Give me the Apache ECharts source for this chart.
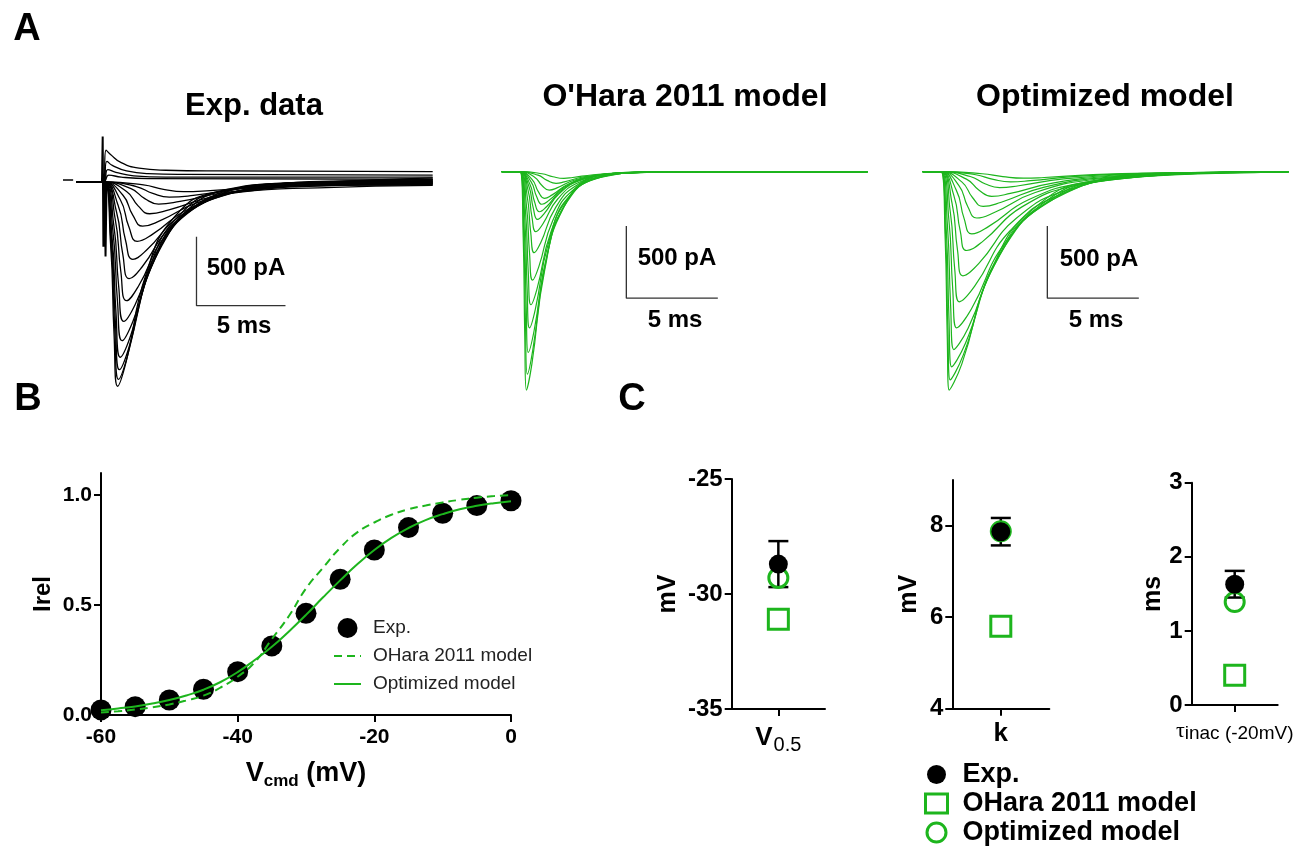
<!DOCTYPE html>
<html>
<head>
<meta charset="utf-8">
<script src="https://cdn.jsdelivr.net/npm/echarts@6.0.0/dist/echarts.min.js"></script>
<style>
    html, body { margin: 0; padding: 0; background: #fff; }
    #chart { width: 1309px; height: 847px; }
</style>
</head>
<body>
<div id="chart"></div>
<script>
const FONT = '"Liberation Sans", Arial, Helvetica, sans-serif';
const GREEN = '#1db51d';

// ---- panel A: current traces, [time (ms), current (pA)] ----
const expTraces = [
    [[0,0],[1.5,0],[1.9,-444],[2.1,-1110],[2.3,-1480],[2.78,-1302],[3.9,-666],[5.5,-252],[7.9,-69],[11.9,-14],[20,-10]],
    [[0,0],[1.5,0],[1.925,-429],[2.14,-1073],[2.35,-1430],[2.86,-1258],[4.05,-644],[5.75,-243],[8.3,-62],[12.55,-9],[20,-5]],
    [[0,0],[1.5,0],[1.95,-408],[2.175,-1020],[2.4,-1360],[2.94,-1197],[4.2,-612],[6.0,-231],[8.7,-54],[13.2,-4],[20,0]],
    [[0,0],[1.5,0],[1.975,-381],[2.21,-953],[2.45,-1270],[3.02,-1118],[4.35,-572],[6.25,-216],[9.1,-66],[13.85,-19],[20,-15]],
    [[0,0],[1.5,0],[2.025,-345],[2.29,-863],[2.55,-1150],[3.15,-1012],[4.55,-518],[6.55,-196],[9.55,-41],[14.55,2],[20,5]],
    [[0,0],[1.5,0],[2.075,-303],[2.36,-758],[2.65,-1010],[3.28,-889],[4.75,-455],[6.85,-172],[10.0,-60],[15.25,-23],[20,-20]],
    [[0,0],[1.5,0],[2.15,-258],[2.475,-645],[2.8,-860],[3.46,-757],[5.0,-387],[7.2,-146],[10.5,-24],[16.0,8],[20,10]],
    [[0,0],[1.5,0],[2.225,-210],[2.59,-525],[2.95,-700],[3.67,-616],[5.35,-315],[7.75,-119],[11.35,-36],[17.35,-10],[20,-8]],
    [[0,0],[1.5,0],[2.325,-168],[2.74,-420],[3.15,-560],[3.93,-493],[5.75,-252],[8.35,-95],[12.25,-7],[20,15]],
    [[0,0],[1.5,0],[2.45,-129],[2.925,-323],[3.4,-430],[4.27,-378],[6.3,-194],[9.2,-73],[13.55,-42],[20,-25]],
    [[0,0],[1.5,0],[2.6,-96],[3.15,-240],[3.7,-320],[4.66,-282],[6.9,-144],[10.1,-54],[14.9,-13],[20,0]],
    [[0,0],[1.5,0],[2.8,-69],[3.45,-173],[4.1,-230],[5.18,-202],[7.7,-104],[11.3,-29],[16.7,11],[20,20]],
    [[0,0],[1.5,0],[3.05,-48],[3.825,-120],[4.6,-160],[5.8,-141],[8.6,-72],[12.6,-33],[18.6,-18],[20,-12]],
    [[0,0],[1.5,0],[3.35,-33],[4.275,-83],[5.2,-110],[6.55,-97],[9.7,-40],[14.2,1],[20,30]],
    [[0,0],[1.5,0],[3.75,-21],[4.875,-53],[6.0,-70],[7.5,-62],[11.0,-32],[16.0,-4],[20,8]],
    [[0,0],[1.5,0],[1.65,230],[1.9,200],[2.5,140],[3.5,100],[5,85],[8,80],[20,75]],
    [[0,0],[1.5,0],[1.7,150],[2.0,120],[2.8,80],[4,60],[6,55],[20,50]],
    [[0,0],[1.5,0],[1.75,90],[2.2,70],[3.2,45],[5,35],[20,35]],
    [[0,0],[1.5,0],[1.8,50],[2.5,35],[4,25],[20,20]]
];
const expArtifact = [[1.42,0],[1.46,330],[1.5,-470],[1.56,60],[1.62,-540],[1.68,0]];
const expZeroMark = [[-0.77,15],[-0.2,15]];

const oharaTraces = [
    [[0,0],[1,0],[1.175,-453],[1.26,-1133],[1.35,-1510],[1.65,-1329],[2.35,-680],[3.35,-257],[4.85,-60],[7.35,-5],[20,0]],
    [[0,0],[1,0],[1.2,-420],[1.3,-1050],[1.4,-1400],[1.7,-1232],[2.4,-630],[3.4,-238],[4.9,-56],[7.4,-4],[20,0]],
    [[0,0],[1,0],[1.225,-375],[1.34,-938],[1.45,-1250],[1.77,-1100],[2.5,-563],[3.55,-213],[5.13,-50],[7.75,-4],[20,0]],
    [[0,0],[1,0],[1.26,-324],[1.39,-810],[1.52,-1080],[1.84,-950],[2.57,-486],[3.62,-184],[5.2,-43],[7.82,-3],[20,0]],
    [[0,0],[1,0],[1.3,-276],[1.45,-690],[1.6,-920],[1.93,-810],[2.7,-414],[3.8,-156],[5.45,-37],[8.2,-3],[20,0]],
    [[0,0],[1,0],[1.345,-225],[1.52,-563],[1.69,-750],[2.02,-660],[2.79,-338],[3.89,-128],[5.54,-30],[8.29,-2],[20,0]],
    [[0,0],[1,0],[1.39,-168],[1.585,-420],[1.78,-560],[2.125,-493],[2.93,-252],[4.08,-95],[5.81,-22],[8.68,-2],[20,0]],
    [[0,0],[1,0],[1.435,-125],[1.65,-311],[1.87,-415],[2.23,-365],[3.07,-187],[4.27,-71],[6.07,-17],[9.07,-1],[20,0]],
    [[0,0],[1,0],[1.48,-99],[1.72,-248],[1.96,-330],[2.32,-290],[3.16,-149],[4.36,-56],[6.16,-13],[9.16,-1],[20,0]],
    [[0,0],[1,0],[1.53,-83],[1.795,-208],[2.06,-277],[2.435,-244],[3.31,-125],[4.56,-47],[6.435,-11],[9.56,-1],[20,0]],
    [[0,0],[1,0],[1.6,-68],[1.9,-169],[2.2,-225],[2.59,-198],[3.5,-101],[4.8,-38],[6.75,-9],[10,-1],[20,0]],
    [[0,0],[1,0],[1.665,-55],[2.0,-138],[2.33,-184],[2.735,-162],[3.68,-83],[5.03,-31],[7.06,-7],[10.43,-1],[20,0]],
    [[0,0],[1,0],[1.8,-38],[2.2,-95],[2.6,-127],[3.02,-112],[4.0,-57],[5.4,-22],[7.5,-5],[11,0],[20,0]],
    [[0,0],[1,0],[1.985,-24],[2.48,-60],[2.97,-80],[3.42,-70],[4.47,-36],[5.97,-14],[8.22,-3],[12,0],[20,0]],
    [[0,0],[1,0],[2.2,-14],[2.8,-35],[3.4,-46],[3.88,-40],[5.0,-21],[6.6,-8],[9.0,-2],[13,0],[20,0]]
];

const optTraces = [
    [[0,0],[1,0],[1.225,-453],[1.34,-1133],[1.45,-1510],[2.14,-1329],[3.75,-680],[6.05,-257],[9.5,-60],[15.25,-5],[20,0]],
    [[0,0],[1,0],[1.25,-432],[1.375,-1080],[1.5,-1440],[2.22,-1267],[3.9,-648],[6.3,-245],[9.9,-58],[15.9,-4],[20,0]],
    [[0,0],[1,0],[1.29,-405],[1.435,-1013],[1.58,-1350],[2.33,-1188],[4.08,-608],[6.58,-230],[10.33,-54],[16.58,-4],[20,0]],
    [[0,0],[1,0],[1.35,-369],[1.525,-923],[1.7,-1230],[2.48,-1082],[4.3,-554],[6.9,-209],[10.8,-49],[17.3,-4],[20,0]],
    [[0,0],[1,0],[1.425,-324],[1.64,-810],[1.85,-1080],[2.66,-950],[4.55,-486],[7.25,-184],[11.3,-43],[18.05,-3],[20,0]],
    [[0,0],[1,0],[1.5,-270],[1.75,-675],[2.0,-900],[2.84,-792],[4.8,-405],[7.6,-153],[11.8,-36],[18.8,-3],[20,0]],
    [[0,0],[1,0],[1.6,-216],[1.9,-540],[2.2,-720],[3.07,-634],[5.1,-324],[8.0,-122],[12.35,-29],[20,0]],
    [[0,0],[1,0],[1.7,-164],[2.05,-409],[2.4,-545],[3.3,-480],[5.4,-245],[8.4,-93],[12.9,-22],[20,0]],
    [[0,0],[1,0],[1.84,-129],[2.26,-323],[2.68,-430],[3.61,-378],[5.78,-194],[8.88,-73],[13.53,-17],[20,0]],
    [[0,0],[1,0],[1.98,-96],[2.46,-240],[2.95,-320],[3.91,-282],[6.15,-144],[9.35,-54],[14.15,-13],[20,0]],
    [[0,0],[1,0],[2.15,-72],[2.73,-180],[3.3,-240],[4.29,-211],[6.6,-108],[9.9,-41],[14.85,-10],[20,0]],
    [[0,0],[1,0],[2.39,-51],[3.08,-128],[3.77,-170],[4.79,-150],[7.17,-77],[10.57,-29],[15.67,-7],[20,0]],
    [[0,0],[1,0],[2.6,-33],[3.4,-83],[4.2,-110],[5.25,-97],[7.7,-50],[11.2,-19],[16.45,-4],[20,0]],
    [[0,0],[1,0],[2.9,-21],[3.85,-53],[4.8,-70],[5.88,-62],[8.4,-32],[12.0,-12],[17.4,-3],[20,0]],
    [[0,0],[1,0],[3.25,-14],[4.375,-34],[5.5,-45],[6.64,-40],[9.3,-20],[13.1,-8],[18.8,-2],[20,0]]
];

// scale bars: 500 pA vertical, 5 ms horizontal
const expScaleBar = [[6.73,-396],[6.73,-896],[11.73,-896]];
const modelScaleBar = [[6.81,-375],[6.81,-875],[11.81,-875]];

// ---- panel B: activation curve ----
const ivVolt = [-60,-55,-50,-45,-40,-35,-30,-25,-20,-15,-10,-5,0];
const ivExp = [0.023,0.038,0.068,0.117,0.197,0.314,0.462,0.617,0.75,0.852,0.917,0.952,0.974];
const fitVolt = [-60,-57.5,-55,-52.5,-50,-47.5,-45,-42.5,-40,-37.5,-35,-32.5,-30,-27.5,-25,-22.5,-20,-17.5,-15,-12.5,-10,-7.5,-5,-2.5,0];
const fitOhara = [0.011,0.017,0.025,0.035,0.048,0.066,0.088,0.125,0.174,0.24,0.345,0.45,0.575,0.67,0.76,0.83,0.875,0.91,0.935,0.952,0.966,0.978,0.988,0.995,1.0];
const fitOpt = [0.022,0.03,0.039,0.052,0.068,0.089,0.115,0.15,0.195,0.25,0.31,0.38,0.455,0.535,0.612,0.685,0.75,0.805,0.85,0.886,0.913,0.935,0.951,0.963,0.972];

// ---- panel C: fitted parameters ----
const cParams = ['V0.5', 'k', 'tau'];
const expMean = [-28.7, 7.87, 1.63];
const expSem = [1.0, 0.3, 0.18];
const oharaVal = [-31.1, 5.8, 0.40];
const optVal = [-29.3, 7.88, 1.39];

const chart = echarts.init(document.getElementById('chart'));

const axisBlack = { show: true, onZero: false, lineStyle: { color: '#000', width: 2 } };
const tickBlack = { show: true, length: 7, lineStyle: { color: '#000', width: 2 } };

function traceLines(traces, gi, color, width) {
    return traces.map(function (tr) {
        return {
            type: 'line', xAxisIndex: gi, yAxisIndex: gi, data: tr,
            symbol: 'none', smooth: 0.5, silent: true,
            lineStyle: { color: color, width: width }
        };
    });
}

function barLine(data, gi) {
    return {
        type: 'line', xAxisIndex: gi, yAxisIndex: gi, data: data,
        symbol: 'none', silent: true,
        lineStyle: { color: '#333', width: 1.3 }
    };
}

function txt(s, x, y, size, weight) {
    return {
        type: 'text', x: x, y: y, silent: true,
        style: {
            text: s, fill: '#000', font: (weight || 'bold') + ' ' + size + 'px ' + FONT,
            align: 'center', verticalAlign: 'middle'
        }
    };
}

const grids = [
    { left: 58.9, top: 126.8, width: 373.8, height: 289.8 },
    { left: 501.7, top: 142.8, width: 366, height: 274.7 },
    { left: 922.7, top: 142.8, width: 366, height: 274.7 },
    { left: 101, top: 473, width: 410, height: 242 },
    { left: 731.7, top: 479, width: 93.3, height: 230 },
    { left: 952.3, top: 480, width: 97, height: 228.7 },
    { left: 1191.7, top: 482.7, width: 86, height: 222.3 }
];

const hiddenX = (gi, min, max) => ({ gridIndex: gi, type: 'value', min: min, max: max, show: false });
const hiddenY = (gi, min, max) => ({ gridIndex: gi, type: 'value', min: min, max: max, show: false });

const cLabelRich = {
    v: { fontSize: 26, fontWeight: 'bold', color: '#000', fontFamily: FONT },
    s: { fontSize: 20, color: '#000', fontFamily: FONT, padding: [14, 0, 0, 1] },
    t: { fontSize: 22, color: '#000', fontFamily: '"Liberation Serif", serif' },
    n: { fontSize: 19, color: '#000', fontFamily: FONT, padding: [4, 0, 0, 0] }
};
const cLabelText = {
    'V0.5': '{v|V}{s|0.5}',
    'k': '{v|k}',
    'tau': '{t|τ}{n|inac (-20mV)}'
};

function cXAxis(gi, i) {
    return {
        gridIndex: gi, type: 'category', data: [cParams[i]],
        axisLine: axisBlack,
        axisTick: Object.assign({ alignWithLabel: true }, tickBlack),
        axisLabel: {
            margin: i === 2 ? 15 : 12,
            formatter: (v) => cLabelText[v],
            rich: cLabelRich
        }
    };
}

function cYAxis(gi, min, max, interval, name, gap, custom) {
    const ax = {
        gridIndex: gi, type: 'value', min: min, max: max, interval: interval,
        name: name, nameLocation: 'middle', nameGap: gap,
        nameTextStyle: { fontSize: 25, fontWeight: 'bold', color: '#000', fontFamily: FONT },
        axisLine: axisBlack,
        axisTick: Object.assign({}, tickBlack),
        axisLabel: { fontSize: 24, fontWeight: 'bold', color: '#000', fontFamily: FONT, margin: 9 },
        splitLine: { show: false }
    };
    if (custom) {
        ax.axisTick.customValues = custom;
        ax.axisLabel.customValues = custom;
    }
    return ax;
}

function cSeries(gi, i) {
    return [
        {
            type: 'scatter', name: 'OHara 2011 model', xAxisIndex: gi, yAxisIndex: gi,
            data: [oharaVal[i]], symbol: 'rect', symbolSize: 20, silent: true,
            itemStyle: { color: 'rgba(255,255,255,0)', borderColor: GREEN, borderWidth: 3, opacity: 1 }
        },
        {
            type: 'scatter', name: 'Optimized model', xAxisIndex: gi, yAxisIndex: gi,
            data: [optVal[i]], symbol: 'circle', symbolSize: 19, silent: true,
            itemStyle: { color: 'rgba(255,255,255,0)', borderColor: GREEN, borderWidth: 3, opacity: 1 }
        },
        {
            type: 'custom', xAxisIndex: gi, yAxisIndex: gi, silent: true,
            data: [[0, expMean[i] - expSem[i], expMean[i] + expSem[i]]],
            encode: { x: 0, y: [1, 2] },
            renderItem: function (params, api) {
                const lo = api.coord([api.value(0), api.value(1)]);
                const hi = api.coord([api.value(0), api.value(2)]);
                const w = 10;
                const st = { stroke: '#000', lineWidth: 2.5 };
                return {
                    type: 'group', children: [
                        { type: 'line', shape: { x1: lo[0], y1: lo[1], x2: hi[0], y2: hi[1] }, style: st },
                        { type: 'line', shape: { x1: lo[0] - w, y1: lo[1], x2: lo[0] + w, y2: lo[1] }, style: st },
                        { type: 'line', shape: { x1: hi[0] - w, y1: hi[1], x2: hi[0] + w, y2: hi[1] }, style: st }
                    ]
                };
            }
        },
        {
            type: 'scatter', name: 'Exp.', xAxisIndex: gi, yAxisIndex: gi,
            data: [expMean[i]], symbol: 'circle', symbolSize: 19, silent: true,
            itemStyle: { color: '#000', opacity: 1 }
        }
    ];
}

const option = {
    animation: false,
    backgroundColor: '#fff',
    textStyle: { fontFamily: FONT },
    grid: grids.map(g => Object.assign({ outerBoundsMode: 'none', containLabel: false }, g)),
    xAxis: [
        hiddenX(0, -1, 20),
        hiddenX(1, 0, 20),
        hiddenX(2, 0, 20),
        {
            gridIndex: 3, type: 'value', min: -60, max: 0, interval: 20,
            name: '{v|V}{s|cmd}{v| (mV)}', nameLocation: 'middle', nameGap: 43,
            nameTextStyle: {
                rich: {
                    v: { fontSize: 27, fontWeight: 'bold', color: '#000', fontFamily: FONT },
                    s: { fontSize: 17, fontWeight: 'bold', color: '#000', fontFamily: FONT, padding: [15, 0, 0, 0] }
                }
            },
            axisLine: axisBlack, axisTick: tickBlack,
            axisLabel: { fontSize: 21, fontWeight: 'bold', color: '#000', margin: 12 },
            splitLine: { show: false }
        },
        cXAxis(4, 0), cXAxis(5, 1), cXAxis(6, 2)
    ],
    yAxis: [
        hiddenY(0, -1700, 400),
        hiddenY(1, -1700, 200),
        hiddenY(2, -1700, 200),
        {
            gridIndex: 3, type: 'value', min: 0, max: 1.1,
            name: 'Irel', nameLocation: 'middle', nameGap: 46,
            nameTextStyle: { fontSize: 24, fontWeight: 'bold', color: '#000', fontFamily: FONT },
            axisLine: axisBlack,
            axisTick: Object.assign({ customValues: [0, 0.5, 1.0] }, tickBlack),
            axisLabel: {
                customValues: [0, 0.5, 1.0], fontSize: 21, fontWeight: 'bold', color: '#000', margin: 9,
                formatter: (v) => v.toFixed(1)
            },
            splitLine: { show: false }
        },
        cYAxis(4, -35, -25, 5, 'mV', 51),
        cYAxis(5, 4, 9, 2, 'mV', 31, [4, 6, 8]),
        cYAxis(6, 0, 3, 1, 'ms', 26)
    ],
    legend: [
        {
            left: 333, top: 618, orient: 'vertical', padding: 0,
            itemWidth: 27, itemHeight: 20, itemGap: 8,
            selectedMode: false,
            data: [
                { name: 'Exp. ' },
                { name: 'OHara 2011 model ', itemStyle: { opacity: 0 } },
                { name: 'Optimized model ', itemStyle: { opacity: 0 } }
            ],
            formatter: (n) => n.trim(),
            textStyle: { fontSize: 19, lineHeight: 20, color: '#222', fontFamily: FONT, padding: [0, 0, 0, 7] }
        },
        {
            left: 924, top: 760, orient: 'vertical', padding: 0,
            itemWidth: 22, itemHeight: 19, itemGap: 0,
            selectedMode: false,
            data: [
                { name: 'Exp.', itemStyle: { borderWidth: 0 } },
                { name: 'OHara 2011 model', itemStyle: { borderWidth: 3 } },
                { name: 'Optimized model', itemStyle: { borderWidth: 3 } }
            ],
            textStyle: { fontSize: 27, lineHeight: 29, fontWeight: 'bold', color: '#000', fontFamily: FONT, padding: [0, 0, 0, 10] }
        }
    ],
    series: [
        // panel B first so its legend picks these styles
        {
            type: 'line', name: 'OHara 2011 model ', xAxisIndex: 3, yAxisIndex: 3,
            data: fitVolt.map((v, i) => [v, fitOhara[i]]), symbol: 'none', smooth: 0.5, silent: true,
            lineStyle: { color: GREEN, width: 2, type: [8, 5] }, itemStyle: { color: GREEN }
        },
        {
            type: 'line', name: 'Optimized model ', xAxisIndex: 3, yAxisIndex: 3,
            data: fitVolt.map((v, i) => [v, fitOpt[i]]), symbol: 'none', smooth: 0.5, silent: true,
            lineStyle: { color: GREEN, width: 2 }, itemStyle: { color: GREEN }
        },
        {
            type: 'scatter', name: 'Exp. ', xAxisIndex: 3, yAxisIndex: 3,
            data: ivVolt.map((v, i) => [v, ivExp[i]]), symbol: 'circle', symbolSize: 21, silent: true,
            itemStyle: { color: '#000', opacity: 1 }
        },
        ...cSeries(4, 0), ...cSeries(5, 1), ...cSeries(6, 2),
        ...traceLines(expTraces, 0, '#000', 1.3),
        {
            type: 'line', xAxisIndex: 0, yAxisIndex: 0, data: expArtifact, symbol: 'none', silent: true,
            lineStyle: { color: '#000', width: 2 }
        },
        {
            type: 'line', xAxisIndex: 0, yAxisIndex: 0, data: expZeroMark, symbol: 'none', silent: true,
            lineStyle: { color: '#000', width: 1.5 }
        },
        barLine(expScaleBar, 0),
        ...traceLines(oharaTraces, 1, GREEN, 1.2),
        barLine(modelScaleBar, 1),
        ...traceLines(optTraces, 2, GREEN, 1.2),
        barLine(modelScaleBar, 2)
    ],
    graphic: [
        txt('A', 27, 30, 38), txt('B', 28, 400, 38), txt('C', 632, 400, 38),
        txt('Exp. data', 254, 106, 31),
        txt("O'Hara 2011 model", 685, 97, 32),
        txt('Optimized model', 1105, 97, 32),
        txt('500 pA', 246, 268, 24), txt('5 ms', 244, 326, 24),
        txt('500 pA', 677, 258, 24), txt('5 ms', 675, 320, 24),
        txt('500 pA', 1099, 259, 24), txt('5 ms', 1096, 320, 24)
    ]
};

chart.setOption(option);
</script>
</body>
</html>
